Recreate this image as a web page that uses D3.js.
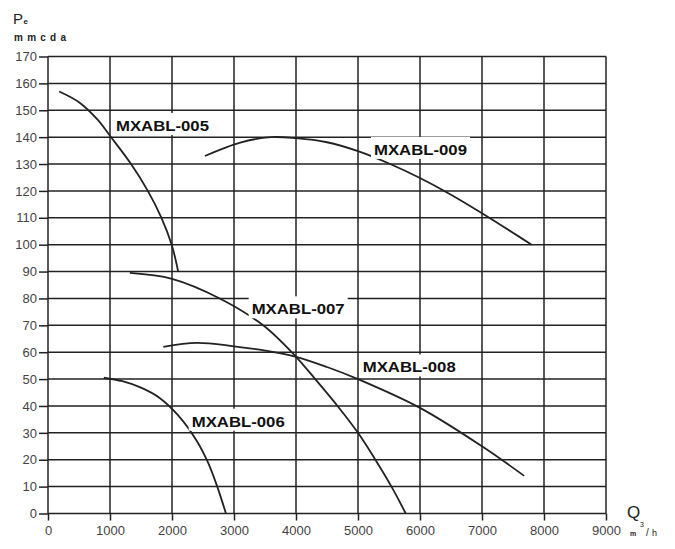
<!DOCTYPE html>
<html>
<head>
<meta charset="utf-8">
<script src="https://cdn.jsdelivr.net/npm/d3@7/dist/d3.min.js"></script>
<style>
  html, body { margin: 0; padding: 0; background: #fff; }
  svg { display: block; }
</style>
</head>
<body>
<svg id="chart" width="675" height="549"></svg>
<script>
// ---- data ----
const xTicks = [0, 1000, 2000, 3000, 4000, 5000, 6000, 7000, 8000, 9000];
const yTicks = [0, 10, 20, 30, 40, 50, 60, 70, 80, 90, 100, 110, 120, 130, 140, 150, 160, 170];

const seriesNames = ["MXABL-005", "MXABL-006", "MXABL-007", "MXABL-008", "MXABL-009"];

const q005 = [180, 500, 800, 1000, 1340, 1610, 1830, 1995, 2100];
const p005 = [157, 153, 146.5, 140.5, 130, 120, 110, 100, 90];

const q006 = [900, 1200, 1500, 1800, 2100, 2400, 2580, 2730, 2870];
const p006 = [50.5, 49.2, 46.8, 43, 36.5, 27, 19, 10, 0];

const q007 = [1320, 2000, 2770, 3470, 4000, 4310, 4670, 5000, 5280, 5540, 5770];
const p007 = [89.5, 87.3, 80, 70, 58.3, 50, 40, 30, 20, 10, 0];

const q008 = [1860, 2400, 3000, 3500, 4000, 4500, 5000, 6000, 7000, 7680];
const p008 = [62, 63.5, 62.2, 60.6, 58.3, 54.5, 50, 39.3, 25, 14];

const q009 = [2530, 3100, 3600, 4000, 4500, 5000, 5500, 6000, 6500, 7000, 7800];
const p009 = [133, 138, 140, 139.6, 138.1, 134.8, 130.2, 124.8, 118.6, 111.7, 100];

// label anchor points in data units (left x, baseline y)
const labelQ = [1097, 2318, 3285, 5076, 5258];
const labelP = [142.3, 32.3, 74.1, 52.5, 133.4];

// ---- drawing ----
const svg = d3.select("#chart");
const x = d3.scaleLinear().domain([0, 9000]).range([48, 606]);
const y = d3.scaleLinear().domain([0, 170]).range([513.5, 56.5]);

const ink = "#222";
const ff = "'Liberation Sans', Arial, sans-serif";

// grid
const grid = svg.append("g");
grid.selectAll("line.v").data(xTicks).join("line")
  .attr("x1", d => x(d)).attr("x2", d => x(d))
  .attr("y1", y(170)).attr("y2", y(0))
  .attr("stroke", ink).attr("stroke-width", 1.5);
grid.selectAll("line.h").data(yTicks).join("line")
  .attr("x1", x(0)).attr("x2", x(9000))
  .attr("y1", d => y(d)).attr("y2", d => y(d))
  .attr("stroke", ink).attr("stroke-width", 1.5);

// axes with ticks
const xAxis = d3.axisBottom(x).tickValues(xTicks).tickSize(7).tickPadding(5).tickFormat(d3.format("d"));
const yAxis = d3.axisLeft(y).tickValues(yTicks).tickSize(9).tickPadding(2).tickFormat(d3.format("d"));

const gx = svg.append("g").attr("transform", `translate(0,${y(0)})`).call(xAxis);
const gy = svg.append("g").attr("transform", `translate(${x(0)},0)`).call(yAxis);
[gx, gy].forEach(g => {
  g.select(".domain").remove();
  g.selectAll(".tick line").attr("stroke", ink).attr("stroke-width", 1.5);
  g.selectAll(".tick text")
    .attr("fill", "#444")
    .style("font-family", ff)
    .style("font-size", "13px");
});
gx.selectAll(".tick text").attr("dy", "0.71em");

// curves
const qs = [q005, q006, q007, q008, q009];
const ps = [p005, p006, p007, p008, p009];
const line = d3.line().x(d => x(d[0])).y(d => y(d[1])).curve(d3.curveCatmullRom.alpha(0.5));
seriesNames.forEach((name, i) => {
  const pts = qs[i].map((q, j) => [q, ps[i][j]]);
  svg.append("path").datum(pts)
    .attr("d", line)
    .attr("fill", "none")
    .attr("stroke", ink)
    .attr("stroke-width", 1.8);
});

// labels with white boxes
seriesNames.forEach((name, i) => {
  const lx = x(labelQ[i]), ly = y(labelP[i]);
  const g = svg.append("g");
  g.append("rect").attr("fill", "#fff")
    .attr("x", lx - 3).attr("y", ly - 18).attr("width", 99).attr("height", 22);
  g.append("text")
    .attr("x", lx).attr("y", ly)
    .attr("textLength", 93).attr("lengthAdjust", "spacingAndGlyphs")
    .style("font-family", ff)
    .style("font-weight", "bold")
    .style("font-size", "15.5px")
    .attr("fill", "#111")
    .text(name);
});

// axis titles
const pe = svg.append("text").attr("x", 13).attr("y", 23.5)
  .style("font-family", ff).style("font-size", "15px").attr("fill", "#222");
pe.append("tspan").text("P");
pe.append("tspan").attr("dx", 0.5).attr("dy", 0).attr("font-size", "8px").attr("font-weight", "bold").text("e");

svg.append("text").attr("x", 14).attr("y", 40.5)
  .attr("textLength", 52).attr("lengthAdjust", "spacing")
  .style("font-family", ff).style("font-size", "10px").style("font-weight", "bold")
  .attr("fill", "#222").text("mmcda");

svg.append("text").attr("x", 627).attr("y", 518)
  .style("font-family", ff).style("font-size", "17px").attr("fill", "#222").text("Q");
svg.append("text").attr("x", 630).attr("y", 536)
  .style("font-family", ff).style("font-size", "7px").style("font-weight", "bold")
  .attr("fill", "#222").text("m");
svg.append("text").attr("x", 640).attr("y", 526.5)
  .style("font-family", ff).style("font-size", "7px")
  .attr("fill", "#222").text("3");
svg.append("text").attr("x", 646).attr("y", 536)
  .style("font-family", ff).style("font-size", "10px")
  .attr("fill", "#222").text("/");
svg.append("text").attr("x", 652).attr("y", 536)
  .style("font-family", ff).style("font-size", "9px")
  .attr("fill", "#222").text("h");
</script>
</body>
</html>
